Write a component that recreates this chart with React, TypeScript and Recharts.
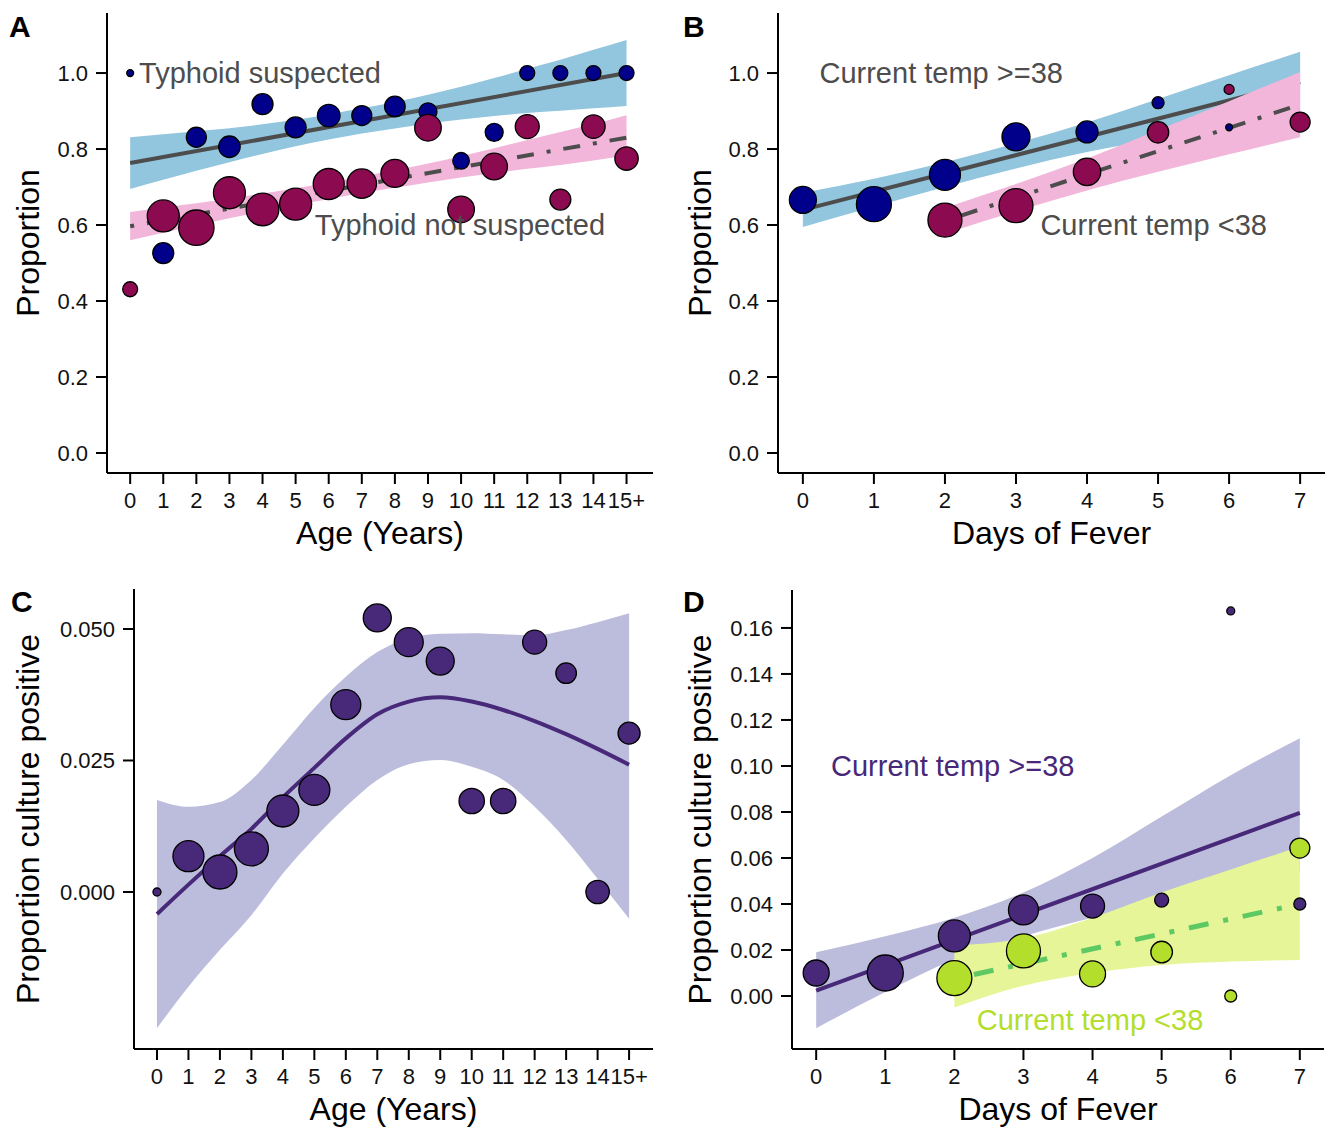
import React from "react"
import { Area, ComposedChart, Line, ReferenceDot, Scatter, XAxis, YAxis, ZAxis } from "recharts"

const FONT = '"Liberation Sans", Arial, Helvetica, sans-serif'

// ---------- A: proportion by age ----------
const ageLabels = ["0", "1", "2", "3", "4", "5", "6", "7", "8", "9", "10", "11", "12", "13", "14", "15+"]
const suspectedProp = [1.0, 0.526, 0.831, 0.806, 0.918, 0.857, 0.888, 0.888, 0.912, 0.898, 0.769, 0.844, 1.0, 1.0, 1.0, 1.0]
const suspectedN = [12, 110, 100, 115, 110, 110, 128, 100, 106, 81, 69, 81, 56, 56, 56, 56]
const notSuspectedProp = [0.431, 0.624, 0.593, 0.685, 0.641, 0.655, 0.708, 0.709, 0.736, 0.856, 0.641, 0.754, 0.859, 0.667, 0.859, 0.775]
const notSuspectedN = [56, 256, 313, 256, 266, 256, 240, 216, 196, 177, 177, 177, 144, 110, 137, 137]
const suspectedLo = [0.695, 0.719, 0.743, 0.765, 0.787, 0.807, 0.825, 0.841, 0.854, 0.867, 0.878, 0.887, 0.895, 0.901, 0.907, 0.913]
const suspectedHi = [0.831, 0.839, 0.847, 0.855, 0.865, 0.877, 0.891, 0.907, 0.924, 0.943, 0.964, 0.987, 1.011, 1.035, 1.061, 1.087]
const notSuspectedLo = [0.56, 0.58, 0.599, 0.618, 0.635, 0.653, 0.668, 0.684, 0.698, 0.712, 0.725, 0.737, 0.748, 0.758, 0.77, 0.782]
const notSuspectedHi = [0.634, 0.646, 0.657, 0.67, 0.683, 0.697, 0.712, 0.728, 0.744, 0.762, 0.781, 0.802, 0.824, 0.845, 0.866, 0.889]
const suspectedFit = [0.763, 1.0] // at age 0 and 15+
const notSuspectedFit = [0.597, 0.83]

// ---------- B: proportion by days of fever ----------
const feverDays = [0, 1, 2, 3, 4, 5, 6, 7]
const hotDays = [0, 1, 2, 3, 4, 5, 6]
const hotProp = [0.666, 0.655, 0.732, 0.832, 0.845, 0.922, 0.857]
const hotN = [182, 306, 240, 196, 121, 36, 12]
const coolDays = [2, 3, 4, 5, 6, 7]
const coolProp = [0.613, 0.651, 0.74, 0.844, 0.957, 0.871]
const coolN = [289, 289, 188, 114, 25, 100]
const hotLo = [0.595, 0.648, 0.7, 0.749, 0.792, 0.828, 0.862, 0.896]
const hotHi = [0.685, 0.722, 0.765, 0.815, 0.87, 0.932, 0.994, 1.056]
const coolLo = [0.577, 0.636, 0.691, 0.74, 0.786, 0.831]
const coolHi = [0.645, 0.708, 0.775, 0.85, 0.926, 1.003]
const hotFit = [0.64, 0.976] // day 0 and 7
const coolFit = [0.611, 0.917] // day 2 and 7

// ---------- C: culture positive by age ----------
const cultureProp = [0.0, 0.0068, 0.0038, 0.0082, 0.0154, 0.0194, 0.0356, 0.0521, 0.0475, 0.0439, 0.0173, 0.0173, 0.0475, 0.0416, 0.0, 0.0302]
const cultureN = [16, 240, 289, 289, 256, 240, 225, 196, 210, 196, 161, 161, 144, 106, 137, 121]
const cultureFit = [-0.0042, 0.0014, 0.0068, 0.012, 0.018, 0.0236, 0.0292, 0.0338, 0.0362, 0.037, 0.0362, 0.0346, 0.0325, 0.03, 0.0272, 0.0242]
const cultureLo = [-0.0259, -0.018, -0.011, -0.0044, 0.0035, 0.0102, 0.0162, 0.0213, 0.0243, 0.0251, 0.0238, 0.0213, 0.0162, 0.0099, 0.0025, -0.0051]
const cultureHi = [0.0175, 0.0162, 0.0171, 0.0213, 0.028, 0.035, 0.0409, 0.0456, 0.0483, 0.0491, 0.0492, 0.049, 0.0488, 0.0498, 0.0513, 0.053]

// ---------- D: culture positive by days of fever ----------
const cHotProp = [0.01, 0.01, 0.0261, 0.0374, 0.0391, 0.0417, 0.1674, 0.04]
const cHotN = [169, 324, 256, 225, 144, 49, 16, 36]
const cCoolProp = [0.0078, 0.0196, 0.0096, 0.0191, 0.0, 0.0643]
const cCoolN = [306, 289, 169, 117, 36, 100]
const cHotLo = [-0.014, 0.0017, 0.016, 0.026, 0.034, 0.041, 0.048, 0.054]
const cHotHi = [0.019, 0.026, 0.034, 0.045, 0.06, 0.078, 0.096, 0.112]
const cCoolLo = [-0.005, 0.0045, 0.01, 0.0135, 0.015, 0.0157]
const cCoolHi = [0.022, 0.025, 0.034, 0.045, 0.055, 0.065]
const cHotFit = [0.0023, 0.0796]
const cCoolFit = [0.0075, 0.04]

const propTicks = [0, 0.2, 0.4, 0.6, 0.8, 1.0]
const cultureTicks = [0, 0.025, 0.05]
const cultureDayTicks = [0, 0.02, 0.04, 0.06, 0.08, 0.1, 0.12, 0.14, 0.16]
const ageIdx = ageLabels.map((_, i) => i)

const ends = (i: number, first: number, last: number, v: number[]) => (i === first ? v[0] : i === last ? v[1] : null)

const ageTable = ageIdx.map((i) => ({
    x: i,
    suspBand: [suspectedLo[i], suspectedHi[i]],
    notBand: [notSuspectedLo[i], notSuspectedHi[i]],
    suspFit: ends(i, 0, 15, suspectedFit),
    notFit: ends(i, 0, 15, notSuspectedFit),
}))
const feverTable = feverDays.map((d) => {
    const k = coolDays.indexOf(d)
    return {
        x: d,
        hotBand: [hotLo[d], hotHi[d]],
        coolBand: k >= 0 ? [coolLo[k], coolHi[k]] : null,
        hotFit: ends(d, 0, 7, hotFit),
        coolFit: ends(d, 2, 7, coolFit),
    }
})
const cultureTable = ageIdx.map((i) => ({ x: i, band: [cultureLo[i], cultureHi[i]], fit: cultureFit[i] }))
const cultureDayTable = feverDays.map((d) => {
    const k = coolDays.indexOf(d)
    return {
        x: d,
        hotBand: [cHotLo[d], cHotHi[d]],
        coolBand: k >= 0 ? [cCoolLo[k], cCoolHi[k]] : null,
        hotFit: ends(d, 0, 7, cHotFit),
        coolFit: ends(d, 2, 7, cCoolFit),
    }
})

const pts = (xs: number[], ys: number[], ns: number[]) => xs.map((x, i) => ({ x, y: ys[i], n: ns[i] }))

const axisProps = {
    axisLine: { stroke: "#000", strokeWidth: 2 },
    tickLine: { stroke: "#000", strokeWidth: 2 },
    tick: { fill: "#111", fontSize: 22, fontFamily: FONT },
    tickSize: 11,
    tickMargin: 8,
    interval: 0 as const,
    allowDataOverflow: true,
}
const xTitle = (value: string, offset: number) => ({
    value, position: "insideBottom" as const, offset, fontSize: 32, fill: "#000", fontFamily: FONT,
})
const yTitle = (value: string, offset: number) => ({
    value, angle: -90, position: "insideLeft" as const, offset, fontSize: 32, fill: "#000", fontFamily: FONT,
    style: { textAnchor: "middle" },
})
const note = (value: string, fill: string) => ({
    value, position: "right" as const, offset: 0, fontSize: 29, fill, fontFamily: FONT,
})

const GRAY = "#4d4d4d"
const DOTDASH = "4 13 17 13"
const PURPLE = "#482878"
const LIME = "#b4de2c"

function SizeAxis() {
    return <ZAxis type="number" dataKey="n" domain={[0, 400]} range={[0, 400 * Math.PI]} />
}

function PanelA() {
    return (
        <ComposedChart width={665} height={564} data={ageTable} margin={{ top: 13, right: 12, bottom: 0, left: 0 }}>
            <XAxis type="number" dataKey="x" domain={[-0.7, 15.8]} ticks={ageIdx} tickFormatter={(i) => ageLabels[i]} height={91} {...axisProps} label={xTitle("Age (Years)", 20)} />
            <YAxis type="number" domain={[-0.0526, 1.158]} ticks={propTicks} tickFormatter={(v) => v.toFixed(1)} width={107} {...axisProps} label={yTitle("Proportion", 28)} />
            {SizeAxis()}
            <Area dataKey="suspBand" type="monotone" stroke="none" fill="#92c5de" fillOpacity={1} isAnimationActive={false} activeDot={false} />
            <Area dataKey="notBand" type="monotone" stroke="none" fill="#f1b6da" fillOpacity={1} isAnimationActive={false} activeDot={false} />
            <Line dataKey="suspFit" type="linear" stroke={GRAY} strokeWidth={4} dot={false} activeDot={false} connectNulls isAnimationActive={false} />
            <Line dataKey="notFit" type="linear" stroke={GRAY} strokeWidth={4} strokeDasharray={DOTDASH} dot={false} activeDot={false} connectNulls isAnimationActive={false} />
            <Scatter data={pts(ageIdx, suspectedProp, suspectedN)} dataKey="y" fill="#00008b" stroke="#000" strokeWidth={1.3} isAnimationActive={false} />
            <Scatter data={pts(ageIdx, notSuspectedProp, notSuspectedN)} dataKey="y" fill="#8b0a50" stroke="#000" strokeWidth={1.3} isAnimationActive={false} />
            <ReferenceDot x={0.24} y={1.0} r={1} fillOpacity={0} strokeOpacity={0} label={note("Typhoid suspected", GRAY)} />
            <ReferenceDot x={5.55} y={0.6} r={1} fillOpacity={0} strokeOpacity={0} label={note("Typhoid not suspected", GRAY)} />
        </ComposedChart>
    )
}

function PanelB() {
    return (
        <ComposedChart width={665} height={564} data={feverTable} margin={{ top: 13, right: 5, bottom: 0, left: 0 }}>
            <XAxis type="number" dataKey="x" domain={[-0.35, 7.35]} ticks={feverDays} height={91} {...axisProps} label={xTitle("Days of Fever", 20)} />
            <YAxis type="number" domain={[-0.0526, 1.158]} ticks={propTicks} tickFormatter={(v) => v.toFixed(1)} width={113} {...axisProps} label={yTitle("Proportion", 35)} />
            {SizeAxis()}
            <Area dataKey="hotBand" type="monotone" stroke="none" fill="#92c5de" fillOpacity={1} isAnimationActive={false} activeDot={false} />
            <Line dataKey="hotFit" type="linear" stroke={GRAY} strokeWidth={4} dot={false} activeDot={false} connectNulls isAnimationActive={false} />
            <Area dataKey="coolBand" type="monotone" stroke="none" fill="#f1b6da" fillOpacity={1} isAnimationActive={false} activeDot={false} zIndex={450} />
            <Line dataKey="coolFit" type="linear" stroke={GRAY} strokeWidth={4} strokeDasharray={DOTDASH} dot={false} activeDot={false} connectNulls isAnimationActive={false} zIndex={460} />
            <Scatter data={pts(hotDays, hotProp, hotN)} dataKey="y" fill="#00008b" stroke="#000" strokeWidth={1.3} isAnimationActive={false} />
            <Scatter data={pts(coolDays, coolProp, coolN)} dataKey="y" fill="#8b0a50" stroke="#000" strokeWidth={1.3} isAnimationActive={false} />
            <ReferenceDot x={0.22} y={1.0} r={1} fillOpacity={0} strokeOpacity={0} label={note("Current temp >=38", GRAY)} />
            <ReferenceDot x={3.33} y={0.6} r={1} fillOpacity={0} strokeOpacity={0} label={note("Current temp <38", GRAY)} />
        </ComposedChart>
    )
}

function PanelC() {
    return (
        <ComposedChart width={665} height={564} data={cultureTable} margin={{ top: 25, right: 12, bottom: 0, left: 0 }}>
            <XAxis type="number" dataKey="x" domain={[-0.73, 15.76]} ticks={ageIdx} tickFormatter={(i) => ageLabels[i]} height={79} {...axisProps} label={xTitle("Age (Years)", 8)} />
            <YAxis type="number" domain={[-0.02985, 0.0576]} ticks={cultureTicks} tickFormatter={(v) => v.toFixed(3)} width={134} {...axisProps} label={yTitle("Proportion culture positive", 28)} />
            {SizeAxis()}
            <Area dataKey="band" type="monotone" stroke="none" fill="#bcbddc" fillOpacity={1} isAnimationActive={false} activeDot={false} />
            <Line dataKey="fit" type="monotone" stroke={PURPLE} strokeWidth={4} dot={false} activeDot={false} isAnimationActive={false} />
            <Scatter data={pts(ageIdx, cultureProp, cultureN)} dataKey="y" fill={PURPLE} stroke="#000" strokeWidth={1.3} isAnimationActive={false} />
        </ComposedChart>
    )
}

function PanelD() {
    return (
        <ComposedChart width={665} height={564} data={cultureDayTable} margin={{ top: 26, right: 6, bottom: 0, left: 0 }}>
            <XAxis type="number" dataKey="x" domain={[-0.35, 7.35]} ticks={feverDays} height={79} {...axisProps} label={xTitle("Days of Fever", 8)} />
            <YAxis type="number" domain={[-0.02304, 0.1765]} ticks={cultureDayTicks} tickFormatter={(v) => v.toFixed(2)} width={127} {...axisProps} label={yTitle("Proportion culture positive", 35)} />
            {SizeAxis()}
            <Area dataKey="hotBand" type="monotone" stroke="none" fill="#bcbddc" fillOpacity={1} isAnimationActive={false} activeDot={false} />
            <Area dataKey="coolBand" type="monotone" stroke="none" fill="#e6f598" fillOpacity={1} isAnimationActive={false} activeDot={false} />
            <Line dataKey="hotFit" type="linear" stroke={PURPLE} strokeWidth={4} dot={false} activeDot={false} connectNulls isAnimationActive={false} />
            <Line dataKey="coolFit" type="linear" stroke="#5ec962" strokeWidth={5} strokeDasharray="5 15 20 15" dot={false} activeDot={false} connectNulls isAnimationActive={false} />
            <Scatter data={pts(feverDays, cHotProp, cHotN)} dataKey="y" fill={PURPLE} stroke="#000" strokeWidth={1.3} isAnimationActive={false} />
            <Scatter data={pts(coolDays, cCoolProp, cCoolN)} dataKey="y" fill={LIME} stroke="#000" strokeWidth={1.3} isAnimationActive={false} />
            <ReferenceDot x={0.2} y={0.1} r={1} fillOpacity={0} strokeOpacity={0} label={note("Current temp >=38", PURPLE)} />
            <ReferenceDot x={2.31} y={-0.0104} r={1} fillOpacity={0} strokeOpacity={0} label={note("Current temp <38", LIME)} />
        </ComposedChart>
    )
}

export default function App() {
    const letter = { fontSize: 30, fontWeight: 700, fontFamily: FONT, fill: "#000" }
    return (
        <div style={{ position: "absolute", left: 0, top: 0, width: 1330, height: 1128, background: "#fff", overflow: "hidden" }}>
            <div style={{ position: "absolute", left: 0, top: 0 }}><PanelA /></div>
            <div style={{ position: "absolute", left: 665, top: 0 }}><PanelB /></div>
            <div style={{ position: "absolute", left: 0, top: 564 }}><PanelC /></div>
            <div style={{ position: "absolute", left: 665, top: 564 }}><PanelD /></div>
            <svg width={1330} height={1128} style={{ position: "absolute", left: 0, top: 0, pointerEvents: "none" }}>
                <text x={9} y={37} {...letter}>A</text>
                <text x={683} y={37} {...letter}>B</text>
                <text x={11} y={612} {...letter}>C</text>
                <text x={683} y={612} {...letter}>D</text>
            </svg>
        </div>
    )
}
